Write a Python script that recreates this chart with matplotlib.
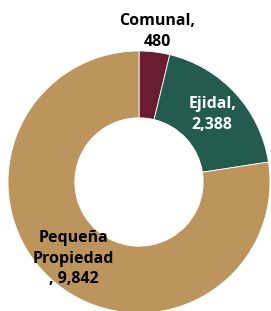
import numpy as np
import matplotlib.pyplot as plt

plt.rcParams['font.family'] = ['Open Sans', 'DejaVu Sans']

categorias = ['Comunal', 'Ejidal', 'Pequeña\nPropiedad\n']
valores = [480, 2388, 9842]
colores = ['#691C32', '#235B4E', '#BC955C']
color_texto = ['black', 'white', 'black']
distancia = [1.16, 0.76, 0.77]

fig = plt.figure(figsize=(2.71, 3.11), dpi=100)
ax = fig.add_axes([8 / 271, -2 / 311, 262 / 271, 262 / 311])

wedges, _ = ax.pie(valores, colors=colores, startangle=90, counterclock=False,
                   radius=1.0, wedgeprops=dict(width=0.51, linewidth=0.6, edgecolor='white'))

for w, cat, val, col, r in zip(wedges, categorias, valores, color_texto, distancia):
    ang = np.deg2rad((w.theta1 + w.theta2) / 2)
    if cat.endswith('\n'):
        txt = f'{cat}, {val:,}'
    else:
        txt = f'{cat},\n{val:,}'
    ax.text(r * np.cos(ang), r * np.sin(ang), txt,
            ha='center', va='center', color=col, fontsize=11.5, fontweight='bold',
            linespacing=1.4)

ax.set_xlim(-1, 1)
ax.set_ylim(-1, 1)
ax.set_aspect('equal')
ax.axis('off')

plt.savefig('out.png', dpi=100)
